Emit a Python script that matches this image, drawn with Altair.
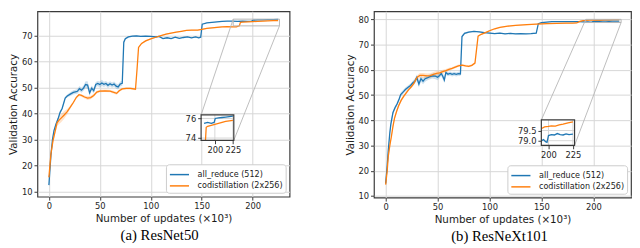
import altair as alt
import pandas as pd

SERIES = ["all_reduce (512)", "codistillation (2x256)"]
COLORS = ["#1f77b4", "#ff7f0e"]

# ---------------- Panel (a) ResNet50 ----------------
a_blue_x = [0, 2, 3.5, 5, 7, 9, 11, 13, 14.5, 16,
            18, 21, 24, 26, 28, 30, 32, 34, 36, 38,
            40, 42, 44, 46, 48, 50, 52, 54, 56, 58,
            60, 62, 64, 66, 68, 70, 72, 73.5, 75, 78,
            82, 86, 90, 95, 100, 105, 108, 112, 116, 120,
            124, 128, 132, 136, 140, 144, 147, 149, 150.5, 155,
            160, 165, 170, 175, 180, 185, 190, 195, 199, 200.5,
            205, 210, 215, 220, 225]
a_blue_y = [12.5, 24, 30, 33.5, 36, 38, 40.5, 42, 44, 46,
            46.8, 47.5, 48.2, 48.4, 48.6, 49.6, 49.0, 49.8, 51.2, 51.0,
            48.0, 49.8, 48.8, 51.2, 51.6, 51.2, 51.8, 51.3, 51.6, 50.9,
            51.5, 51.0, 51.4, 50.6, 50.3, 51.4, 51.7, 67.5, 68.8, 69.5,
            69.8, 69.9, 69.7, 69.8, 69.7, 69.5, 69.7, 68.9, 69.2, 68.9,
            69.4, 69.0, 69.3, 69.5, 69.2, 69.5, 69.2, 69.4, 74.4, 74.9,
            75.1, 75.3, 75.5, 75.6, 75.6, 75.5, 75.6, 75.5, 75.6, 76.0,
            76.05, 76.1, 76.15, 76.2, 76.25]
a_blue_sd = [0.3, 0.5, 0.5, 0.5, 0.5, 0.5, 0.5, 0.5, 0.5, 0.5,
             0.6, 0.7, 0.8, 0.8, 0.9, 1.0, 1.0, 1.0, 1.3, 1.5,
             1.2, 1.0, 1.0, 1.0, 1.0, 1.2, 1.2, 1.0, 1.0, 1.0,
             1.0, 1.0, 1.0, 1.0, 1.0, 1.0, 1.0, 0.6, 0.4, 0.3,
             0.2, 0.2, 0.2, 0.2, 0.2, 0.2, 0.2, 0.2, 0.2, 0.2,
             0.2, 0.2, 0.2, 0.2, 0.2, 0.2, 0.2, 0.2, 0.05, 0.05,
             0.05, 0.05, 0.05, 0.05, 0.05, 0.05, 0.05, 0.05, 0.05, 0.05,
             0.05, 0.05, 0.05, 0.05, 0.05]
a_orange_x = [0, 2, 4, 6, 8, 10, 12, 15, 18, 21,
              24, 27, 29.5, 32, 35, 38, 41, 44, 47, 50,
              55, 60, 63, 66.5, 69, 72, 76, 80, 85, 86.5,
              88, 91, 95, 100, 105, 110, 115, 120, 125, 130,
              135, 140, 146, 150, 155, 160, 165, 170, 175, 180,
              184, 187, 188, 190, 195, 200, 205, 210, 215, 220,
              225]
a_orange_y = [15.5, 24.5, 29.5, 33, 36.5, 37.5, 38.3, 39.5, 40.8, 42.5,
              44.3, 46.3, 47.3, 47, 46.4, 46, 46.2, 47, 48.3, 48.7,
              48.8, 48.7, 48.3, 47.8, 48.8, 49.5, 49.7, 49.7, 49.4, 57,
              65.5, 67, 68, 68.8, 69.4, 70, 70.6, 71, 71.4, 71.7,
              72, 72.1, 72.1, 72.4, 72.8, 73, 73.2, 73.4, 73.5, 73.4,
              73.4, 73.8, 75.1, 75.2, 75.3, 75.4, 75.5, 75.6, 75.7, 75.75,
              75.8]
a_orange_sd = [0.3, 0.6, 0.8, 1.0, 1.3, 1.5, 1.6, 1.5, 1.0, 0.6,
               0.5, 0.5, 0.5, 0.5, 0.6, 0.7, 0.7, 0.6, 0.5, 0.5,
               0.5, 0.5, 0.5, 0.5, 0.5, 0.4, 0.4, 0.4, 0.4, 0.4,
               0.4, 0.3, 0.3, 0.2, 0.2, 0.2, 0.2, 0.2, 0.2, 0.2,
               0.2, 0.2, 0.2, 0.2, 0.2, 0.2, 0.2, 0.2, 0.2, 0.2,
               0.2, 0.05, 0.05, 0.05, 0.05, 0.05, 0.05, 0.05, 0.05, 0.05,
               0.05]

# ---------------- Panel (b) ResNeXt101 ----------------
b_blue_x = [0, 1.5, 2.5, 4, 5, 7, 9, 11, 13, 14.5,
            17, 19, 22, 24, 26, 28, 30, 32, 34, 36,
            38, 40, 42, 45, 48, 50, 52, 53.5, 55, 56.5,
            58, 60, 62, 64, 66, 68, 70, 72, 73.5, 76,
            80, 85, 90, 95, 100, 105, 110, 115, 120, 125,
            130, 135, 140, 145, 147, 150, 155, 160, 170, 180,
            186, 190, 193, 195, 197, 198.5, 200, 203, 206, 209,
            212, 215, 218, 221, 225]
b_blue_y = [15, 22, 28, 35, 38.5, 43, 45, 46.5, 48.5, 50.2,
            51.3, 52.2, 53.2, 53.8, 54.8, 55.5, 57, 54.4, 56.5, 55.5,
            56.5, 56.8, 57.2, 57.6, 57.5, 57.1, 57.8, 58.6, 57.5, 56,
            59, 58.3, 58.6, 58.2, 58.5, 58.2, 58.5, 58.4, 73.2, 74.5,
            75, 75.3, 75.1, 74.8, 74.6, 74.4, 74.6, 74.3, 74.5, 74.3,
            74.4, 74.3, 74.4, 74.6, 78.3, 78.7, 78.9, 79.1, 79.1, 79.1,
            79.1, 79.05, 79.0, 79.05, 78.95, 78.92, 79.25, 79.3, 79.28, 79.35,
            79.3, 79.28, 79.33, 79.3, 79.32]
b_blue_sd = [0.3, 0.8, 1.0, 1.0, 1.0, 0.8, 0.8, 0.8, 0.8, 0.8,
             0.8, 0.8, 0.8, 0.8, 0.9, 1.0, 1.2, 1.4, 1.2, 1.2,
             1.2, 1.0, 1.0, 1.0, 1.2, 1.2, 1.0, 1.0, 1.2, 1.3,
             1.0, 0.8, 0.8, 0.8, 0.8, 0.8, 0.8, 0.8, 0.5, 0.4,
             0.3, 0.2, 0.2, 0.2, 0.2, 0.2, 0.2, 0.2, 0.2, 0.2,
             0.2, 0.2, 0.2, 0.2, 0.05, 0.05, 0.05, 0.05, 0.05, 0.05,
             0.05, 0.05, 0.05, 0.05, 0.05, 0.05, 0.05, 0.05, 0.05, 0.05,
             0.05, 0.05, 0.05, 0.05, 0.05]
b_orange_x = [0, 1.5, 2.5, 4, 5.5, 7, 8.5, 10.5, 12.5, 15,
              17.5, 20, 22, 24.5, 27, 29.5, 31, 33, 36, 40,
              43, 46, 49, 52, 55, 58, 61, 64, 67, 70,
              73.5, 77, 80, 83, 86, 87.5, 89, 92, 95.5, 100,
              105, 110, 117.5, 125, 136, 145, 155, 165, 174, 180,
              184, 187, 190, 193, 196, 200, 203, 207, 211, 215,
              220, 225]
b_orange_y = [14.5, 20, 25.6, 30, 33.5, 37.5, 40.8, 43.5, 45.8, 48,
              49.6, 51, 52.1, 53.2, 54.5, 56.5, 57.3, 57.8, 57.8, 57.6,
              57.7, 58.2, 58.6, 58.8, 59.3, 59.7, 60.2, 60.6, 61.1, 61.6,
              61.9, 61.6, 61.4, 61.8, 62.7, 68, 73.4, 74.1, 74.7, 75.5,
              76.3, 76.8, 77.3, 77.6, 77.9, 78.1, 78.3, 78.4, 78.5, 78.5,
              78.6, 79.2, 79.55, 79.6, 79.68, 79.7, 79.73, 79.72, 79.78, 79.82,
              79.88, 79.93]
b_orange_sd = [0.3, 0.6, 0.8, 0.8, 0.8, 0.8, 0.8, 0.8, 0.7, 0.6,
               0.6, 0.6, 0.6, 0.6, 0.7, 0.8, 0.9, 1.0, 1.0, 1.0,
               1.0, 1.0, 1.0, 0.9, 0.8, 0.7, 0.6, 0.5, 0.5, 0.5,
               0.4, 0.4, 0.4, 0.4, 0.4, 0.4, 0.3, 0.3, 0.3, 0.3,
               0.3, 0.2, 0.2, 0.2, 0.2, 0.2, 0.2, 0.2, 0.2, 0.2,
               0.1, 0.05, 0.05, 0.05, 0.05, 0.05, 0.05, 0.05, 0.05, 0.05,
               0.05, 0.05]

X_TICKS = [0, 50, 100, 150, 200]
A_Y_TICKS = [10, 20, 30, 40, 50, 60, 70]
B_Y_TICKS = [10, 20, 30, 40, 50, 60, 70, 80]

PANELS = [
    dict(bx=a_blue_x, by=a_blue_y, bs=a_blue_sd, ox=a_orange_x, oy=a_orange_y, os=a_orange_sd,
         W=257, H=189, xdom=[-11.25, 236.25], ydom=[8.06, 79.4], yticks=A_Y_TICKS,
         box=[149.4, 181.5, 29.75, 39.5], zoom=[180.9, 226.3, 73.77, 76.36],
         ixticks=[200, 225], iyticks=[74, 76], iyfmt="d",
         caption="(a) ResNet50", cdx=-4),
    dict(bx=b_blue_x, by=b_blue_y, bs=b_blue_sd, ox=b_orange_x, oy=b_orange_y, os=b_orange_sd,
         W=262, H=190, xdom=[-11.25, 236.25], ydom=[9.36, 83.24], yticks=B_Y_TICKS,
         box=[149.9, 181.9, 30.1, 40.16], zoom=[192.7, 226.7, 78.77, 80.02],
         ixticks=[200, 225], iyticks=[79.0, 79.5], iyfmt=".1f",
         caption="(b) ResNeXt101", cdx=-3),
]

GRID = "#d6d6d6"
SPINE = "#3a3a3a"
ZOOMC = "#b5b5b5"


def make_panel(p):
    W, H = p["W"], p["H"]
    xmin, xmax = p["xdom"]
    ymin, ymax = p["ydom"]
    bx0, bx1, by0, by1 = p["box"]
    ix0, ix1, iy0, iy1 = p["zoom"]

    blue = pd.DataFrame({"x": p["bx"], "y": p["by"], "s": p["bs"]})
    blue["series"] = SERIES[0]
    orange = pd.DataFrame({"x": p["ox"], "y": p["oy"], "s": p["os"]})
    orange["series"] = SERIES[1]
    for d in (blue, orange):
        d["lo"] = d["y"] - d["s"]
        d["hi"] = d["y"] + d["s"]
    df = pd.concat([blue, orange], ignore_index=True)

    xs = alt.Scale(domain=[xmin, xmax], nice=False, zero=False)
    ys = alt.Scale(domain=[ymin, ymax], nice=False, zero=False)
    xax = alt.Axis(values=X_TICKS, title="Number of updates (×10³)", grid=True)
    yax = alt.Axis(values=p["yticks"], title="Validation Accuracy", grid=True)
    legend = alt.Legend(title=None, orient="bottom-right")
    color = alt.Color("series:N", scale=alt.Scale(domain=SERIES, range=COLORS), legend=legend)

    def band(d, c):
        return alt.Chart(d).mark_area(color=c, opacity=0.22).encode(
            x=alt.X("x:Q", scale=xs, axis=xax),
            y=alt.Y("lo:Q", scale=ys, axis=yax),
            y2=alt.Y2("hi:Q"),
        )

    lines = alt.Chart(df).mark_line(strokeWidth=1.3).encode(
        x=alt.X("x:Q", scale=xs, axis=xax),
        y=alt.Y("y:Q", scale=ys, axis=yax),
        color=color,
    )

    zr = pd.DataFrame({"x0": [ix0], "x1": [ix1], "y0": [iy0], "y1": [iy1]})
    zoom_rect = alt.Chart(zr).mark_rect(fillOpacity=0, stroke=ZOOMC, strokeWidth=1).encode(
        x=alt.X("x0:Q", scale=xs, axis=xax), x2="x1:Q",
        y=alt.Y("y0:Q", scale=ys, axis=yax), y2="y1:Q",
    )
    conn = pd.DataFrame({"x0": [bx0, bx1], "y0": [by1, by0], "x1": [ix0, ix1], "y1": [iy1, iy0]})
    connectors = alt.Chart(conn).mark_rule(color=ZOOMC, strokeWidth=0.9).encode(
        x=alt.X("x0:Q", scale=xs, axis=xax), x2="x1:Q",
        y=alt.Y("y0:Q", scale=ys, axis=yax), y2="y1:Q",
    )
    main = alt.layer(band(blue, COLORS[0]), band(orange, COLORS[1]), lines, zoom_rect, connectors)

    # inset axes placed over the main plot
    lpx = (bx0 - xmin) / (xmax - xmin) * W
    rpx = (bx1 - xmin) / (xmax - xmin) * W
    tpx = (ymax - by1) / (ymax - ymin) * H
    bpx = (ymax - by0) / (ymax - ymin) * H
    ixs = alt.Scale(domain=[ix0, ix1], range=[lpx, rpx], nice=False, zero=False)
    iys = alt.Scale(domain=[iy0, iy1], range=[bpx, tpx], nice=False, zero=False)
    ixax = alt.Axis(values=p["ixticks"], orient="bottom", offset=-(H - bpx), grid=False,
                    domain=False, title=None, labelFlush=False, zindex=1)
    iyax = alt.Axis(values=p["iyticks"], orient="left", offset=-lpx, grid=False,
                    domain=False, title=None, format=p["iyfmt"], zindex=1)

    bgdf = pd.DataFrame({"x0": [ix0], "x1": [ix1], "y0": [iy0], "y1": [iy1]})
    bg = alt.Chart(bgdf).mark_rect(fill="white", strokeWidth=0).encode(
        x=alt.X("x0:Q", scale=ixs, axis=ixax), x2="x1:Q",
        y=alt.Y("y0:Q", scale=iys, axis=iyax), y2="y1:Q",
    )
    g_rows = []
    for v in p["ixticks"]:
        g_rows.append({"x0": v, "x1": v, "y0": iy0, "y1": iy1})
    for v in p["iyticks"]:
        g_rows.append({"x0": ix0, "x1": ix1, "y0": v, "y1": v})
    igrid = alt.Chart(pd.DataFrame(g_rows)).mark_rule(color=GRID, strokeWidth=1).encode(
        x=alt.X("x0:Q", scale=ixs, axis=ixax), x2="x1:Q",
        y=alt.Y("y0:Q", scale=iys, axis=iyax), y2="y1:Q",
    )
    idf = df[(df["x"] >= ix0) & (df["x"] <= ix1) & (df["y"] >= iy0) & (df["y"] <= iy1)]
    ilines = alt.Chart(idf).mark_line(strokeWidth=1.3).encode(
        x=alt.X("x:Q", scale=ixs, axis=ixax),
        y=alt.Y("y:Q", scale=iys, axis=iyax),
        color=color,
    )
    border = alt.Chart(bgdf).mark_rect(fillOpacity=0, stroke=SPINE, strokeWidth=1.2).encode(
        x=alt.X("x0:Q", scale=ixs, axis=ixax), x2="x1:Q",
        y=alt.Y("y0:Q", scale=iys, axis=iyax), y2="y1:Q",
    )
    inset = alt.layer(bg, igrid, ilines, border)

    return alt.layer(main, inset).resolve_scale(x="independent", y="independent").properties(
        width=W, height=H,
        title=alt.TitleParams(p["caption"], orient="bottom", anchor="middle", font="Liberation Serif",
                              fontSize=15, fontWeight="normal", color="black", offset=5, dx=p["cdx"]),
    )


chart = alt.hconcat(make_panel(PANELS[0]), make_panel(PANELS[1]), spacing=55).resolve_scale(
    color="independent").resolve_legend(color="independent").properties(
    padding=0
).configure_view(stroke=SPINE, strokeWidth=1.2).configure_axis(
    labelFont="DejaVu Sans", labelFontSize=8.5, labelColor="#262626", labelPadding=2,
    titleFont="DejaVu Sans", titleFontSize=10.5, titleFontWeight="normal", titleColor="#1a1a1a",
    titlePadding=3, gridColor=GRID, gridWidth=1, tickColor=SPINE, tickSize=3.5, tickWidth=1,
    domain=False, labelFlush=False,
).configure_legend(
    labelFont="DejaVu Sans", labelFontSize=8.2, labelColor="#222222", labelLimit=300,
    fillColor="white", strokeColor="#cccccc", cornerRadius=3, padding=3, offset=4,
    symbolType="M-1.5,0H1.5", symbolSize=169, symbolStrokeWidth=1.5, symbolOffset=3.25,
    rowPadding=0.5, labelOffset=11,
)

chart.save("out.html", embed_options={"renderer": "svg", "actions": False})
